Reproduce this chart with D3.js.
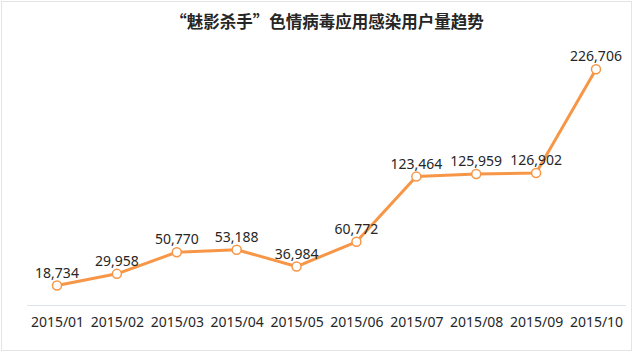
<!DOCTYPE html>
<html>
<head>
<meta charset="utf-8">
<script src="https://cdn.jsdelivr.net/npm/d3@7"></script>
<style>
  body { margin: 0; background: #fff; }
  svg { display: block; }
</style>
</head>
<body>
<script>
// Data
//////////////////////////////////////////////////////////////////////
var months = ["2015/01", "2015/02", "2015/03", "2015/04", "2015/05",
              "2015/06", "2015/07", "2015/08", "2015/09", "2015/10"];
var users = [18734, 29958, 50770, 53188, 36984, 60772, 123464, 125959, 126902, 226706];
var title = "“魅影杀手”色情病毒应用感染用户量趋势";

// Variables
//////////////////////////////////////////////////////////////////////
var width = 640, height = 352;
var lineColor = "#f79646";
var textColor = "#262626";

var x = d3.scalePoint()
  .domain(months)
  .range([57, 596]);

var y = d3.scaleLinear()
  .domain([0, 250000])
  .range([305, 45]);

var svg = d3.select("body").append("svg")
  .attr("width", width)
  .attr("height", height);

// frame
svg.append("rect")
  .attr("x", 1.5).attr("y", 1.5)
  .attr("width", width - 10).attr("height", height - 3)
  .attr("fill", "#fff")
  .attr("stroke", "#e4e4e4");

svg.append("text")
  .attr("x", 327)
  .attr("y", 28)
  .attr("text-anchor", "middle")
  .attr("font-family", "'Noto Sans CJK SC', sans-serif")
  .attr("font-weight", "bold")
  .attr("font-size", 16.5)
  .attr("fill", textColor)
  .text(title);

// axis
var axis = svg.append("g")
  .attr("transform", "translate(0," + y(0) + ")")
  .call(d3.axisBottom(x).tickSize(0).tickPadding(12));
axis.select(".domain")
  .attr("d", "M27,0.5H626")
  .attr("stroke", "#dde3ec");
axis.selectAll("text")
  .attr("font-family", "'Noto Sans', sans-serif")
  .attr("font-size", 14)
  .attr("fill", textColor);

// line
var line = d3.line()
  .x(function (d, i) { return x(months[i]); })
  .y(function (d) { return y(d); });

svg.append("path")
  .datum(users)
  .attr("fill", "none")
  .attr("stroke", lineColor)
  .attr("stroke-width", 3)
  .attr("stroke-linejoin", "round")
  .attr("d", line);

svg.append("g")
  .selectAll("circle")
  .data(users)
  .join("circle")
  .attr("cx", function (d, i) { return x(months[i]); })
  .attr("cy", function (d) { return y(d); })
  .attr("r", 4.5)
  .attr("fill", "#fff")
  .attr("stroke", lineColor)
  .attr("stroke-width", 1.5);

svg.append("g")
  .attr("font-family", "'Noto Sans', sans-serif")
  .attr("font-size", 14)
  .attr("fill", textColor)
  .attr("text-anchor", "middle")
  .selectAll("text")
  .data(users)
  .join("text")
  .attr("x", function (d, i) { return x(months[i]); })
  .attr("y", function (d) { return y(d) - 8; })
  .text(function (d) { return d3.format(",")(d); });
</script>
</body>
</html>
